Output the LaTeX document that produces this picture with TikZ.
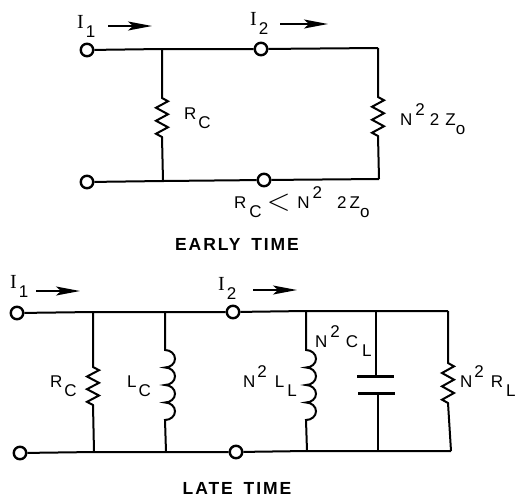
\documentclass[tikz,border=0pt]{standalone}
\usepackage{fontspec}
\setmainfont{Liberation Sans}
\newfontfamily\serifI{Liberation Serif}
\usetikzlibrary{arrows.meta}
\newcommand{\dn}[1]{\lower9.5pt\hbox{#1}}
\newcommand{\up}[1]{\raise10pt\hbox{#1}}
\newcommand{\bigI}{{\serifI\fontsize{20}{20}\selectfont I}}
\newcommand{\resz}[1]{-- ++(6,{#1/12}) -- ++(-12,{#1/6}) -- ++(12,{#1/6}) -- ++(-12,{#1/6}) -- ++(12,{#1/6}) -- ++(-12,{#1/6}) -- ++(6,{#1/12})}
\newcommand{\coil}{arc (-90:90:10 and 8.75) arc (-90:90:10 and 8.75) arc (-90:90:10 and 8.75) arc (-90:90:10 and 8.75)}
\tikzset{
  x=1pt,y=-1pt,
  wire/.style={line width=2pt,line join=miter},
  term/.style={circle,draw,fill=white,line width=2.4pt,minimum size=12.5pt,inner sep=0pt},
  lbl/.style={anchor=base west,inner sep=0pt,font=\fontsize{17}{17}\selectfont},
  heading/.style={anchor=base,inner sep=0pt,font=\fontsize{17.5}{17.5}\bfseries\selectfont\addfontfeatures{LetterSpace=11}},
  flow/.style={line width=1.6pt,-{Stealth[length=24pt,width=9pt,inset=5pt]}},
  plate/.style={line width=3pt}
}
\begin{document}
\begin{tikzpicture}
\useasboundingbox (0,0) rectangle (518,499);
% early time
\coordinate (etj) at (162,49);
\coordinate (ebj) at (163,181);
\coordinate (etr) at (378,48);
\coordinate (ebr) at (379,179);
\coordinate (ea1) at (108,26);
\coordinate (ea2) at (152,26);
\coordinate (eb1) at (280,24);
\coordinate (eb2) at (328,24);
\draw[flow] (ea1) -- (ea2);
\draw[flow] (eb1) -- (eb2);
\draw[wire] (etj) -- ++(0,49) \resz{39} -- (ebj);
\draw[wire] (etr) -- ++(0,49) \resz{39} -- (ebr);
\node[term] (et1) at (87,50) {};
\node[term] (et2) at (261,49) {};
\node[term] (eb3) at (87,182) {};
\node[term] (eb4) at (264,180) {};
\draw[wire] (et1) -- (etj) -- (et2) -- (etr);
\draw[wire] (eb3) -- (ebj) -- (eb4) -- (ebr);
\node[lbl] (ei1) at (77,28) {\bigI\hspace{2pt}\dn{1}};
\node[lbl] (ei2) at (250,25) {\bigI\hspace{2pt}\dn{2}};
\node[lbl] (erc) at (184,119) {R\hspace{2pt}\dn{C}};
\node[lbl] (ezl) at (400,125) {N\hspace{3pt}\up{2}\hspace{5pt}2\hspace{6pt}Z\dn{o}};
\node[lbl] (ecmp) at (234,208) {R\hspace{3pt}\dn{C}\hspace{5pt}\lower2pt\hbox{\fontsize{24.88}{25}\selectfont\scalebox{1.25}{$<$}}\hspace{7pt}N\hspace{3pt}\up{2}\hspace{15pt}2\hspace{3pt}Z\dn{o}};
\node[heading] (ecap) at (237,250) {EARLY\hspace{4pt} TIME};
% late time
\coordinate (lt1) at (93,312);
\coordinate (lb1) at (94,452);
\coordinate (lt2) at (165,312);
\coordinate (lb2) at (166,452);
\coordinate (lt3) at (306,311);
\coordinate (lb3) at (307,451);
\coordinate (lt4) at (376,311);
\coordinate (lb4) at (378,451);
\coordinate (lt5) at (448,311);
\coordinate (lb5) at (451,451);
\coordinate (la1) at (36,291);
\coordinate (la2) at (80,291);
\coordinate (lc1) at (253,290);
\coordinate (lc2) at (297,290);
\draw[flow] (la1) -- (la2);
\draw[flow] (lc1) -- (lc2);
\draw[wire] (lt1) -- ++(0,55) \resz{38} -- (lb1);
\draw[wire] (lt2) -- ++(0,38) \coil -- (lb2);
\draw[wire] (lt3) -- ++(0,39) \coil -- (lb3);
\draw[wire] (lt5) -- ++(0,52) \resz{40} -- (lb5);
\coordinate (cp1) at (376,376);
\coordinate (cp2) at (378,393);
\draw[wire] (lt4) -- (cp1);
\draw[wire] (cp2) -- (lb4);
\draw[plate] (357,376) -- (394,376);
\draw[plate] (358,393) -- (395,393);
\node[term] (lti) at (17,313) {};
\node[term] (ltm) at (233,312) {};
\node[term] (lbi) at (20,453) {};
\node[term] (lbm) at (236,452) {};
\draw[wire] (lti) -- (lt1) -- (lt2) -- (ltm) -- (lt3) -- (lt4) -- (lt5);
\draw[wire] (lbi) -- (lb1) -- (lb2) -- (lbm) -- (lb3) -- (lb4) -- (lb5);
\node[lbl] (li1) at (10,288) {\bigI\hspace{2pt}\dn{1}};
\node[lbl] (li2) at (218,290) {\bigI\hspace{2pt}\dn{2}};
\node[lbl] (lrc) at (50,387) {R\hspace{2pt}\dn{C}};
\node[lbl] (llc) at (127,387) {L\hspace{2pt}\dn{C}};
\node[lbl] (lnl) at (243,387) {N\hspace{2pt}\up{2}\hspace{8pt}L\hspace{3pt}\dn{L}};
\node[lbl] (lnc) at (315,347) {N\hspace{3pt}\up{2}\hspace{6pt}C\hspace{4pt}\dn{L}};
\node[lbl] (lnr) at (460,387) {N\hspace{2pt}\up{2}\hspace{7pt}R\hspace{3pt}\dn{L}};
\node[heading] (lcap) at (237,494) {LATE\hspace{4pt} TIME};
\end{tikzpicture}
\end{document}
